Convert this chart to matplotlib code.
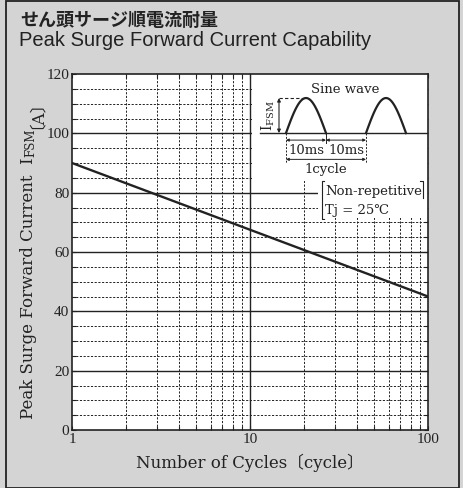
import numpy as np
import matplotlib
matplotlib.use("Agg")
import matplotlib.pyplot as plt
from matplotlib.patches import Rectangle, FancyArrowPatch
from matplotlib.transforms import IdentityTransform

# ---- data ----
cycles = [1, 10, 100]
ifsm = [90, 67.5, 45]
y_major = [0, 20, 40, 60, 80, 100, 120]
y_minor = [5, 10, 15, 25, 30, 35, 45, 50, 55, 65, 70, 75, 85, 90, 95, 105, 110, 115]
x_major = [1, 10, 100]
x_minor = [2, 3, 4, 5, 6, 7, 8, 9, 20, 30, 40, 50, 60, 70, 80, 90]
x_ticklabels = ["1", "10", "100"]

title_jp = "せん頭サージ順電流耐量"
title_en = "Peak Surge Forward Current Capability"
xlabel = "Number of Cycles〔cycle〕"
ylabel_parts = ["Peak Surge Forward Current  I", "FSM", "〔A〕"]

SERIF = ["DejaVu Serif", "Noto Sans CJK JP", "DejaVu Sans"]
TICKF = ["Liberation Serif", "DejaVu Serif"]
plt.rcParams['font.family'] = SERIF
plt.rcParams['mathtext.fontset'] = 'dejavuserif'

BG = "#d4d4d4"
INK = "#222222"

W, H = 463, 488
fig = plt.figure(figsize=(W / 100, H / 100), dpi=100, facecolor=BG)

# outer frame
fig.patches.append(Rectangle((6 / W, 0.5 / H), (459 - 6) / W, (487 - 0.5) / H,
                             transform=fig.transFigure, fill=False,
                             edgecolor=INK, lw=1.3))

fig.text(20 / W, 1 - 26.5 / H, title_jp, fontsize=13, fontweight='bold',
         family=["Noto Sans CJK JP", "DejaVu Sans"], color=INK, va='baseline', ha='left')
fig.text(19 / W, 1 - 46 / H, title_en, fontsize=14.5,
         family=["Liberation Sans", "DejaVu Sans"], color=INK, va='baseline', ha='left')

ax = fig.add_axes([72 / W, 1 - 430 / H, 356 / W, 356 / H])
ax.set_facecolor("white")
ax.set_xscale('log')
ax.set_xlim(1, 100)
ax.set_ylim(0, 120)

# manual grid
for v in y_minor:
    ax.axhline(v, color=INK, lw=0.7, ls=(0, (2.2, 1.6)), zorder=1)
for v in y_major[1:-1]:
    ax.axhline(v, color=INK, lw=1.0, zorder=1.1)
for v in x_minor:
    ax.axvline(v, color=INK, lw=0.7, ls=(0, (2.2, 1.6)), zorder=1)
for v in x_major[1:-1]:
    ax.axvline(v, color=INK, lw=1.0, zorder=1.1)

# white areas for the inset annotations
ax.add_patch(Rectangle((180 / 356, 1 - 107 / 356), 176 / 356, 107 / 356,
                       transform=ax.transAxes, facecolor='white', edgecolor='none', zorder=2))
ax.add_patch(Rectangle((246 / 356, 1 - 144 / 356), 110 / 356, 38 / 356,
                       transform=ax.transAxes, facecolor='white', edgecolor='none', zorder=2))

ax.plot(cycles, ifsm, color=INK, lw=1.7, zorder=3)

ax.set_yticks(y_major)
ax.set_yticks(y_minor, minor=True)
ax.set_xticks(x_major)
ax.set_xticklabels(x_ticklabels)
ax.set_xticks(x_minor, minor=True)
ax.xaxis.set_minor_formatter(matplotlib.ticker.NullFormatter())
ax.tick_params(which='both', direction='in', top=True, right=True, length=3,
               width=0.8, color=INK, labelsize=11, labelcolor=INK)
ax.tick_params(axis='y', pad=2)
ax.tick_params(axis='x', pad=2)
for lab in ax.get_xticklabels() + ax.get_yticklabels():
    lab.set_family(TICKF)
for s in ax.spines.values():
    s.set_linewidth(1.2)
    s.set_color(INK)
    s.set_zorder(4)

ax.set_xlabel(xlabel, fontsize=12, color=INK, labelpad=6)

# y label composed of pieces (small-caps style subscript)
renderer = fig.canvas.get_renderer()
sizes = [12, 8.5, 12]
texts = []
for part, fs in zip(ylabel_parts, sizes):
    tx = fig.text(0, 0, part, rotation=90, fontsize=fs, color=INK,
                  ha='right', va='bottom', transform=IdentityTransform())
    texts.append(tx)
heights = [tx.get_window_extent(renderer).height for tx in texts]
total = sum(heights)
center = H - 251
ycur = center - total / 2
x_desc = 37
for tx, h in zip(texts, heights):
    tx.set_position((x_desc, ycur))
    ycur += h

# ---- inset sine-wave diagram (units: ms horizontally, peak=1 vertically) ----
ins = fig.add_axes([251 / W, 1 - 220 / H, 177 / W, 146 / H])
ins.set_facecolor('none')
ins.set_axis_off()
ins.set_xlim(-8.75, 35.5)
ins.set_ylim(-2.48, 1.686)
ins.set_zorder(5)

t = np.linspace(0, 10, 100)
ins.plot([-6.5, 35.5], [0, 0], color=INK, lw=1.0)
ins.plot(t, np.sin(np.pi * t / 10), color=INK, lw=1.6)
ins.plot(t + 20, np.sin(np.pi * t / 10), color=INK, lw=1.6)
ins.plot([-1.75, 5], [1, 1], color=INK, lw=0.8, ls=(0, (3, 2)))
ins.add_patch(FancyArrowPatch((-1.75, 0), (-1.75, 1), arrowstyle='<|-|>',
                              mutation_scale=5, color=INK, lw=0.8,
                              shrinkA=0, shrinkB=0))
ins.text(-4.4, 0.5, r"I$_{\rm FSM}$", rotation=90, ha='center', va='center',
         fontsize=10, color=INK)
ins.text(14.8, 1.23, "Sine wave", ha='center', va='center', fontsize=9.5, color=INK)
for xv in [0, 20]:
    ins.plot([xv, xv], [0, -0.86], color=INK, lw=0.7, ls=(0, (2, 1.5)))
ins.plot([10, 10], [0, -0.28], color=INK, lw=0.7)
for a, b in [(0, 10), (10, 20)]:
    ins.add_patch(FancyArrowPatch((a, -0.2), (b, -0.2), arrowstyle='<|-|>',
                                  mutation_scale=4, color=INK, lw=0.7,
                                  shrinkA=0, shrinkB=0))
ins.add_patch(FancyArrowPatch((0, -0.75), (20, -0.75), arrowstyle='<|-|>',
                              mutation_scale=4, color=INK, lw=0.7,
                              shrinkA=0, shrinkB=0))
ins.text(5, -0.49, "10ms", ha='center', va='center', fontsize=9.5, color=INK)
ins.text(15, -0.49, "10ms", ha='center', va='center', fontsize=9.5, color=INK)
ins.text(10, -1.04, "1cycle", ha='center', va='center', fontsize=9.5, color=INK)

# bracketed conditions
ins.plot([9.6, 9.0, 9.0, 9.6], [-1.37, -1.37, -2.45, -2.45], color=INK, lw=0.8)
ins.plot([33.6, 34.2, 34.2], [-1.37, -1.37, -1.85], color=INK, lw=0.8)
ins.text(9.8, -1.68, "Non-repetitive", ha='left', va='center', fontsize=9.5, color=INK)
ins.text(9.8, -2.2, "Tj = 25℃", ha='left', va='center', fontsize=9.5, color=INK)

fig.savefig("out.png", dpi=100, facecolor=BG)
